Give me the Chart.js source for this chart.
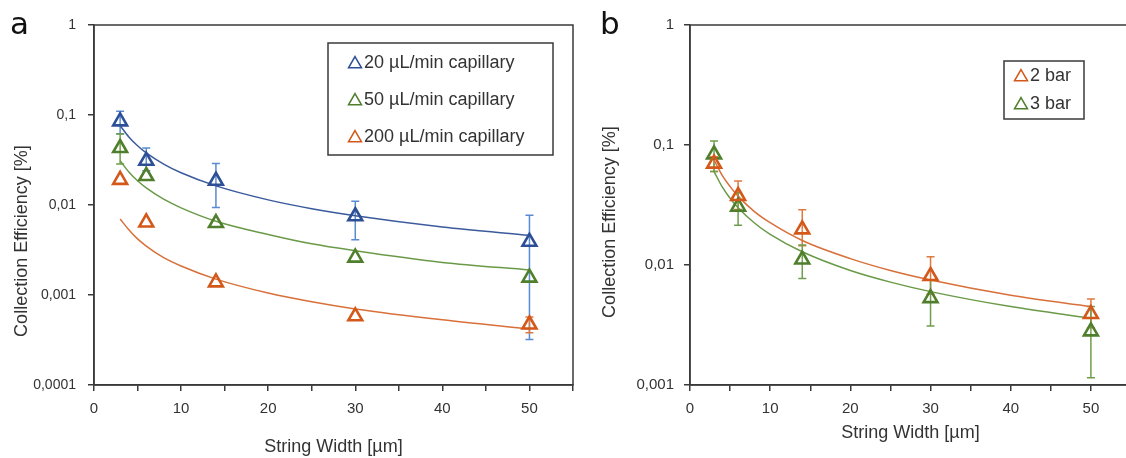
<!DOCTYPE html>
<html>
<head>
<meta charset="utf-8">
<script src="https://cdn.jsdelivr.net/npm/chart.js@4.4.0/dist/chart.umd.min.js"></script>
<style>
  html, body { margin: 0; padding: 0; background: #fff; overflow: hidden; }
  #wrapA { position: absolute; left: 0; top: 0; width: 580px; height: 458px; }
  #wrapB { position: absolute; left: 580px; top: 0; width: 560px; height: 458px; }
</style>
</head>
<body>
<div id="wrapA"><canvas id="chartA" width="580" height="458"></canvas></div>
<div id="wrapB"><canvas id="chartB" width="560" height="458"></canvas></div>
<script>
// ===============================
// Dados
// ===============================
const stringWidth = [3, 6, 14, 30, 50];
const fitWidth = [3, 4, 5, 6, 8, 10, 14, 20, 25, 30, 40, 50];
const decadesA = [0.0001, 0.001, 0.01, 0.1, 1];
const decadesB = [0.001, 0.01, 0.1, 1];

// painel a
const flow20 = [0.085, 0.031, 0.0186, 0.0075, 0.0039];
const flow20Hi = [0.11, 0.043, 0.029, 0.011, 0.0077];
const flow20Lo = [0.062, 0.024, 0.0094, 0.0041, 0.00032];
const flow20Fit = [0.076, 0.057, 0.0456, 0.038, 0.0285, 0.0228, 0.0163, 0.0114, 0.0091, 0.0076, 0.0057, 0.0046];

const flow50 = [0.043, 0.021, 0.0063, 0.0026, 0.00156];
const flow50Hi = [0.0616, null, null, null, null];
const flow50Lo = [0.0285, null, null, null, null];
const flow50Fit = [0.031, 0.0233, 0.0186, 0.0155, 0.0116, 0.0093, 0.0066, 0.0047, 0.0037, 0.0031, 0.0023, 0.0019];

const flow200 = [0.019, 0.0064, 0.00138, 0.00058, 0.00047];
const flow200Hi = [null, null, null, null, 0.00057];
const flow200Lo = [null, null, null, null, 0.00038];
const flow200Fit = [0.007, 0.0053, 0.0042, 0.0035, 0.0026, 0.0021, 0.0015, 0.00105, 0.00084, 0.0007, 0.00053, 0.00042];

// painel b
const bar2 = [0.070, 0.0376, 0.0198, 0.0081, 0.0039];
const bar2Hi = [0.08, 0.050, 0.0289, 0.0117, 0.0052];
const bar2Lo = [0.06, 0.029, 0.0145, 0.0057, 0.003];
const bar2Fit = [0.075, 0.056, 0.045, 0.0375, 0.028, 0.0225, 0.016, 0.0113, 0.009, 0.0075, 0.0056, 0.0045];

const bar3 = [0.0836, 0.0306, 0.0111, 0.0053, 0.0028];
const bar3Hi = [0.108, 0.04, 0.0147, 0.0075, 0.0045];
const bar3Lo = [0.06, 0.0214, 0.0077, 0.0031, 0.00115];
const bar3Fit = [0.06, 0.045, 0.036, 0.03, 0.0225, 0.018, 0.0129, 0.009, 0.0072, 0.006, 0.0045, 0.0036];

// cores
const BLUE = "#2c4f96", BLUE_ERR = "#5a8ad0", BLUE_LINE = "#3a5a9c";
const GREEN = "#4f7f2c", GREEN_ERR = "#6f9e4c", GREEN_LINE = "#6a9a48";
const ORANGE = "#d3581a", ORANGE_ERR = "#de7a40", ORANGE_LINE = "#d8703a";
const AXIS = "#3a3a3a";
const TEXT = "#333333";
const FONT = "'Liberation Sans', Arial";

// ===============================
// Helpers
// ===============================
const toPoints = (xs, ys) => xs.map((x, i) => ({ x, y: ys[i] }));

const markerSet = (label, ys, color, errColor, hi, lo) => ({
  label,
  data: toPoints(stringWidth, ys),
  pointStyle: "triangle",
  pointRadius: 8,
  pointBorderWidth: 2.6,
  borderColor: color,
  backgroundColor: "rgba(255,255,255,0)",
  showLine: false,
  errHi: hi,
  errLo: lo,
  errColor,
  inLegend: true
});

const fitSet = (ys, color) => ({
  data: toPoints(fitWidth, ys),
  showLine: true,
  pointRadius: 0,
  borderColor: color,
  borderWidth: 1.5,
  cubicInterpolationMode: "monotone",
  fill: false
});

// barras de erro
const errorBars = {
  id: "errorBars",
  beforeDatasetsDraw(chart) {
    const { ctx, scales: { x, y }, chartArea } = chart;
    ctx.save();
    ctx.beginPath();
    ctx.rect(chartArea.left, chartArea.top, chartArea.width, chartArea.height);
    ctx.clip();
    chart.data.datasets.forEach(ds => {
      if (!ds.errHi) return;
      ctx.strokeStyle = ds.errColor;
      ctx.lineWidth = 1.5;
      ds.data.forEach((p, i) => {
        const px = x.getPixelForValue(p.x);
        const py = y.getPixelForValue(p.y);
        [ds.errHi[i], ds.errLo[i]].forEach(v => {
          if (v == null) return;
          const ey = y.getPixelForValue(v);
          ctx.beginPath();
          ctx.moveTo(px, py);
          ctx.lineTo(px, ey);
          ctx.moveTo(px - 4, ey);
          ctx.lineTo(px + 4, ey);
          ctx.stroke();
        });
      });
    });
    ctx.restore();
  }
};

// moldura da área do gráfico
const frame = {
  id: "frame",
  afterDraw(chart) {
    const { ctx, chartArea: a } = chart;
    ctx.save();
    ctx.strokeStyle = AXIS;
    ctx.lineWidth = 1.5;
    ctx.strokeRect(a.left, a.top, a.right - a.left, a.bottom - a.top);
    ctx.restore();
  }
};

// legenda com caixa
const boxLegend = {
  id: "boxLegend",
  afterDraw(chart, args, opts) {
    const { ctx } = chart;
    ctx.save();
    ctx.fillStyle = "#fff";
    ctx.fillRect(opts.left, opts.top, opts.width, opts.height);
    ctx.strokeStyle = AXIS;
    ctx.lineWidth = 1.5;
    ctx.strokeRect(opts.left, opts.top, opts.width, opts.height);
    ctx.font = opts.font;
    ctx.textBaseline = "middle";
    ctx.textAlign = "left";
    const items = chart.data.datasets.filter(ds => ds.inLegend);
    items.forEach((ds, i) => {
      const cy = opts.firstRow + i * opts.rowGap;
      ctx.strokeStyle = ds.borderColor;
      ctx.fillStyle = "rgba(255,255,255,0)";
      Chart.helpers.drawPoint(ctx, { pointStyle: "triangle", radius: 7.5, borderWidth: 2.6 }, opts.symbolX, cy + 1);
      ctx.fillStyle = TEXT;
      ctx.fillText(ds.label, opts.textX, cy);
    });
    ctx.restore();
  }
};

// letra do painel e título do eixo y
const panelText = {
  id: "panelText",
  afterDraw(chart, args, opts) {
    const { ctx } = chart;
    ctx.save();
    ctx.font = "31px 'DejaVu Sans'";
    ctx.fillStyle = "#111";
    ctx.textBaseline = "alphabetic";
    ctx.fillText(opts.letter, opts.letterX, opts.letterY);

    ctx.translate(opts.titleX, opts.titleY);
    ctx.rotate(-Math.PI / 2);
    ctx.font = "18px " + FONT;
    ctx.fillStyle = TEXT;
    ctx.textAlign = "center";
    ctx.textBaseline = "middle";
    ctx.fillText("Collection Efficiency [%]", 0, 0);
    ctx.restore();
  }
};

const axisOptions = (decades, yWidth, xTickSize, yTickSize, tickPad, xTitlePad) => ({
  x: {
    type: "linear",
    min: 0,
    max: 55,
    ticks: {
      stepSize: 5,
      color: TEXT,
      padding: 9,
      maxRotation: 0,
      autoSkip: false,
      font: { family: FONT, size: xTickSize },
      callback: v => (v % 10 === 0 && v <= 50 ? String(v) : "")
    },
    grid: { display: true, drawOnChartArea: false, drawTicks: true, tickLength: 6, color: AXIS, lineWidth: 1.5 },
    border: { display: true, color: AXIS, width: 1.5 },
    title: {
      display: true,
      text: "String Width [µm]",
      color: TEXT,
      font: { family: FONT, size: 18 },
      padding: { top: 0, bottom: xTitlePad }
    },
    afterFit: s => { s.height = 73; s.paddingLeft = 0; s.paddingRight = 0; }
  },
  y: {
    type: "logarithmic",
    min: decades[0],
    max: 1,
    afterBuildTicks: s => { s.ticks = decades.map(v => ({ value: v })); },
    ticks: {
      color: TEXT,
      padding: tickPad,
      font: { family: FONT, size: yTickSize },
      callback: v => String(v).replace(".", ",")
    },
    grid: { display: true, drawOnChartArea: false, drawTicks: true, tickLength: 6, color: AXIS, lineWidth: 1.5 },
    border: { display: true, color: AXIS, width: 1.5 },
    afterFit: s => { s.width = yWidth; }
  }
});

// ===============================
// Painel a
// ===============================
new Chart(document.getElementById("chartA").getContext("2d"), {
  type: "scatter",
  data: {
    datasets: [
      markerSet("20 µL/min capillary", flow20, BLUE, BLUE_ERR, flow20Hi, flow20Lo),
      markerSet("50 µL/min capillary", flow50, GREEN, GREEN_ERR, flow50Hi, flow50Lo),
      markerSet("200 µL/min capillary", flow200, ORANGE, ORANGE_ERR, flow200Hi, flow200Lo),
      fitSet(flow20Fit, BLUE_LINE),
      fitSet(flow50Fit, GREEN_LINE),
      fitSet(flow200Fit, ORANGE_LINE)
    ]
  },
  options: {
    responsive: false,
    animation: false,
    layout: { autoPadding: false, padding: { top: 25, right: 7, left: 0, bottom: 0 } },
    plugins: {
      legend: { display: false },
      tooltip: { enabled: false },
      boxLegend: { left: 328, top: 43, width: 225, height: 112, firstRow: 63, rowGap: 37, symbolX: 355, textX: 364, font: "18px " + FONT },
      panelText: { letter: "a", letterX: 10, letterY: 34, titleX: 22, titleY: 241 }
    },
    scales: axisOptions(decadesA, 94, 15, 14, 12, 0)
  },
  plugins: [errorBars, frame, boxLegend, panelText]
});

// ===============================
// Painel b
// ===============================
new Chart(document.getElementById("chartB").getContext("2d"), {
  type: "scatter",
  data: {
    datasets: [
      markerSet("2 bar", bar2, ORANGE, ORANGE_ERR, bar2Hi, bar2Lo),
      markerSet("3 bar", bar3, GREEN, GREEN_ERR, bar3Hi, bar3Lo),
      fitSet(bar2Fit, ORANGE_LINE),
      fitSet(bar3Fit, GREEN_LINE)
    ]
  },
  options: {
    responsive: false,
    animation: false,
    layout: { autoPadding: false, padding: { top: 25, right: 9, left: 0, bottom: 0 } },
    plugins: {
      legend: { display: false },
      tooltip: { enabled: false },
      boxLegend: { left: 424, top: 61, width: 80, height: 58, firstRow: 76, rowGap: 28, symbolX: 441, textX: 450, font: "18px " + FONT },
      panelText: { letter: "b", letterX: 20, letterY: 34, titleX: 30, titleY: 222 }
    },
    scales: axisOptions(decadesB, 110, 15, 15, 10, 14)
  },
  plugins: [errorBars, frame, boxLegend, panelText]
});
</script>
</body>
</html>
